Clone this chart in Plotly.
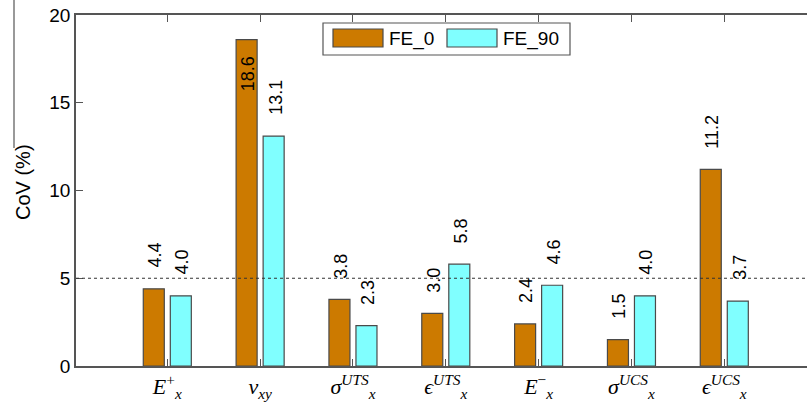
import plotly.graph_objects as go

# ---- data ----
categories = ["E+", "nu_xy", "sigma_UTS", "eps_UTS", "E-", "sigma_UCS", "eps_UCS"]
tick_labels = [
    "<i>E</i><sup>+</sup><sub><i>x</i></sub>",
    "<i>ν</i><sub><i>xy</i></sub>",
    "<i>σ</i><sup><i>UTS</i></sup><sub><i>x</i></sub>",
    "<i>ϵ</i><sup><i>UTS</i></sup><sub><i>x</i></sub>",
    "<i>E</i><sup>−</sup><sub><i>x</i></sub>",
    "<i>σ</i><sup><i>UCS</i></sup><sub><i>x</i></sub>",
    "<i>ϵ</i><sup><i>UCS</i></sup><sub><i>x</i></sub>",
]
fe0 = [4.4, 18.6, 3.8, 3.0, 2.4, 1.5, 11.2]
fe90 = [4.0, 13.1, 2.3, 5.8, 4.6, 4.0, 3.7]
series_names = ["FE_0", "FE_90"]
threshold = 5

# ---- style ----
W, H = 807, 411
L, T, B = 76, 15, 366
ORANGE = "#CC7A00"
CYAN = "#80FFFF"
EDGE = "#4a4a4a"
AX = "#555555"
SANS = "Liberation Sans, Arial, sans-serif"

def px_x(p):
    return (p - L) / (W - L)

def px_y(p):
    return (B - p) / (B - T)

idx = list(range(len(categories)))

fig = go.Figure()
fig.add_bar(x=idx, y=fe0, name=series_names[0], marker=dict(color=ORANGE, line=dict(color=EDGE, width=1.2)))
fig.add_bar(x=idx, y=fe90, name=series_names[1], marker=dict(color=CYAN, line=dict(color=EDGE, width=1.2)))

ann = []
for i, v in enumerate(fe0):
    if v > 17:
        ann.append(dict(x=i, y=v, xref="x", yref="y", text=f"{v:.1f}", textangle=-90,
                        showarrow=False, xanchor="center", yanchor="top", xshift=-12, yshift=-15,
                        font=dict(family=SANS, size=18, color="black")))
    else:
        ann.append(dict(x=i, y=v, xref="x", yref="y", text=f"{v:.1f}", textangle=-90,
                        showarrow=False, xanchor="center", yanchor="bottom", xshift=-12, yshift=19,
                        font=dict(family=SANS, size=18, color="black")))
for i, v in enumerate(fe90):
    ann.append(dict(x=i, y=v, xref="x", yref="y", text=f"{v:.1f}", textangle=-90,
                    showarrow=False, xanchor="center", yanchor="bottom", xshift=15, yshift=19,
                    font=dict(family=SANS, size=18, color="black")))

# y-axis title
ann.append(dict(x=px_x(23), y=px_y(182), xref="paper", yref="paper", text="CoV (%)", textangle=-90,
                showarrow=False, xanchor="center", yanchor="middle",
                font=dict(family=SANS, size=20, color="black")))

# legend (manual)
ann.append(dict(x=px_x(387), y=px_y(39), xref="paper", yref="paper", text=series_names[0],
                showarrow=False, xanchor="left", yanchor="middle", font=dict(family=SANS, size=19, color="black")))
ann.append(dict(x=px_x(501), y=px_y(39), xref="paper", yref="paper", text=series_names[1],
                showarrow=False, xanchor="left", yanchor="middle", font=dict(family=SANS, size=19, color="black")))

shapes = [
    dict(type="line", xref="paper", yref="y", x0=0, x1=1, y0=threshold, y1=threshold,
         line=dict(color="#333333", width=1.2, dash="dot")),
    dict(type="rect", xref="paper", yref="paper", x0=px_x(323), x1=px_x(570), y0=px_y(55), y1=px_y(23),
         line=dict(color=AX, width=1.2), fillcolor="white", layer="above"),
    dict(type="rect", xref="paper", yref="paper", x0=px_x(333), x1=px_x(383), y0=px_y(47), y1=px_y(29),
         line=dict(color=EDGE, width=1.2), fillcolor=ORANGE, layer="above"),
    dict(type="rect", xref="paper", yref="paper", x0=px_x(447), x1=px_x(497), y0=px_y(47), y1=px_y(29),
         line=dict(color=EDGE, width=1.2), fillcolor=CYAN, layer="above"),
    dict(type="line", xref="paper", yref="paper", x0=px_x(14), x1=px_x(14), y0=px_y(0), y1=px_y(148),
         line=dict(color=AX, width=1.2)),
]

fig.update_layout(
    width=W, height=H,
    margin=dict(l=L, r=0, t=T, b=H - B),
    paper_bgcolor="white", plot_bgcolor="white",
    barmode="group", bargap=0.418, bargroupgap=0.222,
    showlegend=False,
    annotations=ann, shapes=shapes,
    xaxis=dict(range=[(L - 167.3) / 92.83, (W - 167.3) / 92.83],
               tickvals=idx, ticktext=tick_labels,
               ticks="inside", ticklen=7, tickcolor=AX, tickwidth=1.2,
               showline=True, linecolor=AX, linewidth=1.5, mirror="ticks",
               showgrid=False, zeroline=False,
               tickfont=dict(family="Liberation Serif, Times New Roman, serif", size=22, color="black")),
    yaxis=dict(range=[0, 20], tickvals=[0, 5, 10, 15, 20],
               ticks="inside", ticklen=7, tickcolor=AX, tickwidth=1.2,
               showline=True, linecolor=AX, linewidth=1.5,
               showgrid=False, zeroline=False,
               tickfont=dict(family=SANS, size=19, color="black")),
)

fig.write_html("out.html", config={"displayModeBar": False},
               post_script="document.body.style.margin='0';document.body.style.overflow='hidden';")
